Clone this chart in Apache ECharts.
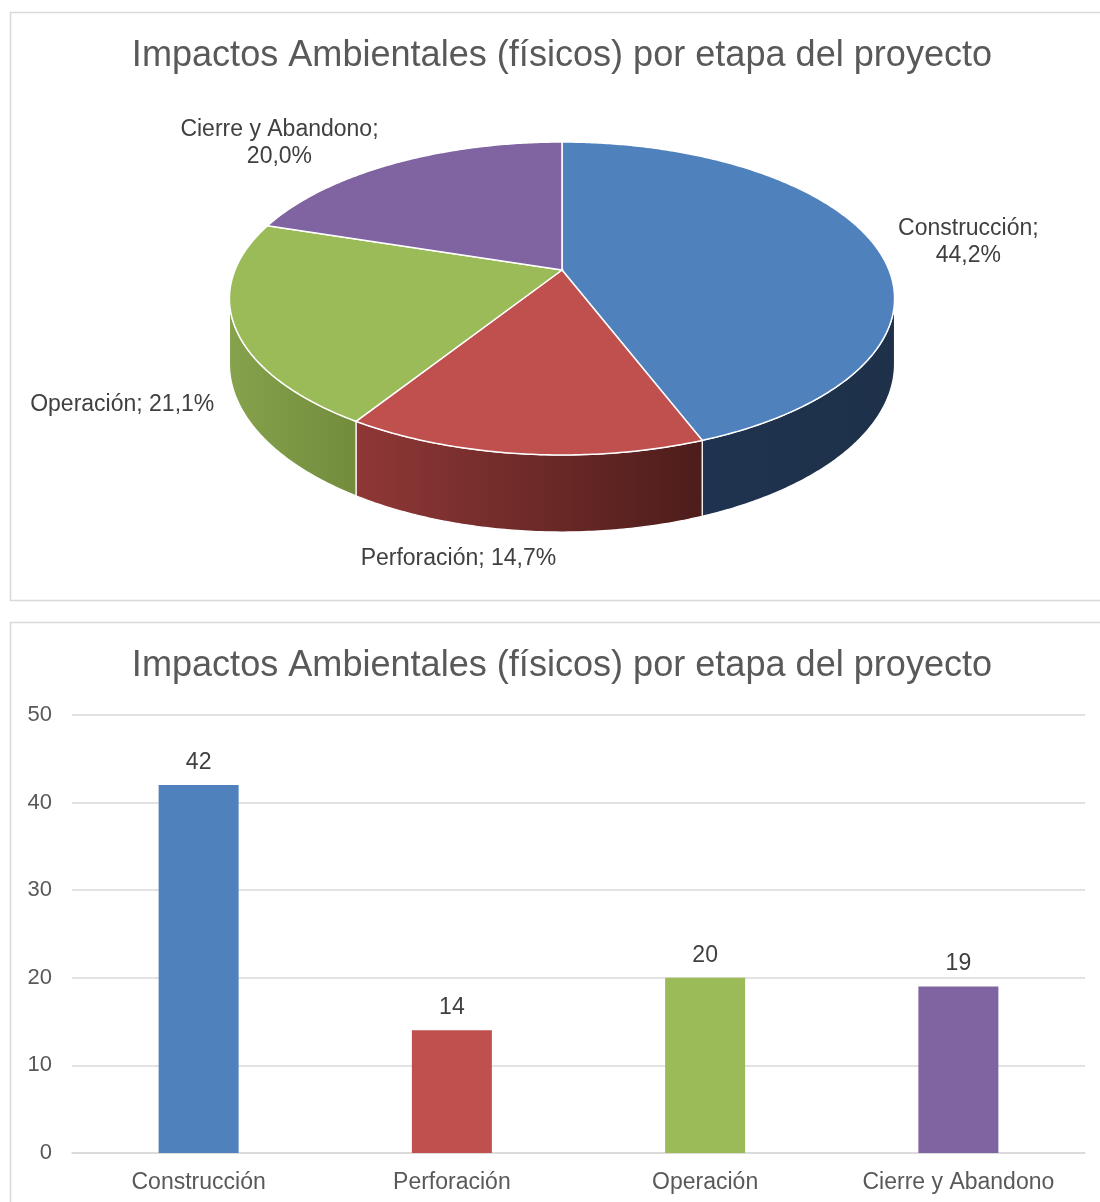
<!DOCTYPE html>
<html>
<head>
<meta charset="utf-8">
<script src="https://cdn.jsdelivr.net/npm/echarts@6/dist/echarts.min.js"></script>
<style>
html,body{margin:0;padding:0;background:#ffffff;}
#chart{width:1100px;height:1202px;}
</style>
</head>
<body>
<div id="chart"></div>
<script>
// ---------- DATA ----------
const chartTitle = 'Impactos Ambientales (físicos) por etapa del proyecto';
const categories = ['Construcción', 'Perforación', 'Operación', 'Cierre y Abandono'];
const impactCounts = [42, 14, 20, 19];
const yAxisMin = 0;
const yAxisMax = 50;
const yAxisInterval = 10;

// ---------- STYLE / LAYOUT ----------
const FONT = '"Liberation Sans", Arial, sans-serif';
const topColors = ['#4f81bd', '#c0504d', '#9bbb59', '#8064a2'];
const sideColors = [
  ['#1f3350', '#1e3149'],
  ['#8f3836', '#4d1d1b'],
  ['#86a24c', '#728c3c'],
  ['#5d4878', '#4a3960']
];
// 3D pie projection parameters (pixels)
const PIE = { cx: 562, cy: 270, rx: 327, ry: 151.3, persp: 0.182, depth: 63 };
// label block offsets relative to each slice's rim anchor
const labelOffsets = [[95, -1.5], [-64, 28], [-112, 13], [-115, -20]];

const total = impactCounts.reduce((a, b) => a + b, 0);

function project(t, drop) {
  const d = 1 + PIE.persp * Math.cos(t);
  return [
    PIE.cx + PIE.rx * Math.sin(t) / d,
    PIE.cy - PIE.ry * Math.cos(t) / d + (drop ? PIE.depth / d : 0)
  ];
}

function renderPie(params, api) {
  const i = params.dataIndex;
  const v = api.value(0);
  let before = 0;
  for (let k = 0; k < i; k++) before += impactCounts[k];
  const TWO_PI = Math.PI * 2;
  const t0 = before / total * TWO_PI;
  const t1 = (before + v) / total * TWO_PI;
  const children = [];

  // top face
  const topPts = [[PIE.cx, PIE.cy]];
  const n = Math.max(10, Math.ceil((t1 - t0) / 0.01));
  for (let s = 0; s <= n; s++) topPts.push(project(t0 + (t1 - t0) * s / n, false));
  // side (only the front-visible part)
  const tL = Math.acos(-PIE.persp);
  const tR = TWO_PI - tL;
  const a = Math.max(t0, tL), b = Math.min(t1, tR);
  if (b > a) {
    const m = Math.max(6, Math.ceil((b - a) / 0.01));
    const up = [], down = [];
    for (let s = 0; s <= m; s++) {
      const t = a + (b - a) * s / m;
      up.push(project(t, false));
      down.push(project(t, true));
    }
    const sidePts = up.concat(down.reverse());
    children.push({
      type: 'polygon',
      z2: 1,
      shape: { points: sidePts },
      style: {
        fill: new echarts.graphic.LinearGradient(0, 0, 1, 0, [
          { offset: 0, color: sideColors[i][0] },
          { offset: 1, color: sideColors[i][1] }
        ]),
        stroke: '#ffffff',
        lineWidth: 1.2
      }
    });
  }
  children.push({
    type: 'polygon',
    z2: 10,
    shape: { points: topPts },
    style: { fill: topColors[i], stroke: '#ffffff', lineWidth: 1.5 }
  });

  // label
  const tm = (t0 + t1) / 2;
  const anchor = project(tm, Math.cos(tm) < 0);
  const pct = (v / total * 100).toFixed(1).replace('.', ',') + '%';
  const name = categories[i];
  const txt = (i === 0 || i === 3) ? name + ';\n' + pct : name + '; ' + pct;
  children.push({
    type: 'text',
    z2: 20,
    x: anchor[0] + labelOffsets[i][0],
    y: anchor[1] + labelOffsets[i][1],
    style: {
      text: txt,
      fill: '#404040',
      fontSize: 23,
      fontFamily: FONT,
      align: 'center',
      verticalAlign: 'middle',
      lineHeight: 27
    }
  });
  return { type: 'group', children: children };
}

const chart = echarts.init(document.getElementById('chart'), null, { renderer: 'canvas' });
chart.setOption({
  animation: false,
  backgroundColor: '#ffffff',
  graphic: [
    { type: 'rect', silent: true, z: -10, shape: { x: 10.5, y: 12.5, width: 1100, height: 588 },
      style: { fill: '#ffffff', stroke: '#d9d9d9', lineWidth: 1.5 } },
    { type: 'rect', silent: true, z: -10, shape: { x: 10.5, y: 622.5, width: 1100, height: 620 },
      style: { fill: '#ffffff', stroke: '#d9d9d9', lineWidth: 1.5 } }
  ],
  title: [
    { text: chartTitle, left: 562, top: 38, textAlign: 'center', padding: 0,
      textStyle: { fontFamily: FONT, fontSize: 36.1, fontWeight: 'normal', color: '#595959' } },
    { text: chartTitle, left: 562, top: 648, textAlign: 'center', padding: 0,
      textStyle: { fontFamily: FONT, fontSize: 36.1, fontWeight: 'normal', color: '#595959' } }
  ],
  grid: { left: 72, right: 15, top: 715, bottom: 49, containLabel: false, outerBoundsMode: 'none' },
  xAxis: {
    type: 'category',
    data: categories,
    axisTick: { show: false },
    axisLine: { lineStyle: { color: '#d9d9d9', width: 1.5 } },
    axisLabel: { color: '#595959', fontFamily: FONT, fontSize: 23, margin: 18, interval: 0 }
  },
  yAxis: {
    type: 'value',
    min: yAxisMin,
    max: yAxisMax,
    interval: yAxisInterval,
    axisLine: { show: false },
    axisTick: { show: false },
    axisLabel: { color: '#595959', fontFamily: FONT, fontSize: 22, margin: 20 },
    splitLine: { lineStyle: { color: '#d9d9d9', width: 1.5 } }
  },
  series: [
    {
      type: 'bar',
      barWidth: 80,
      data: impactCounts.map((v, i) => ({ value: v, itemStyle: { color: topColors[i] } })),
      label: { show: true, position: 'top', distance: 11, color: '#404040', fontFamily: FONT, fontSize: 23 }
    },
    {
      type: 'custom',
      coordinateSystem: 'none',
      renderItem: renderPie,
      data: impactCounts
    }
  ]
});
</script>
</body>
</html>
